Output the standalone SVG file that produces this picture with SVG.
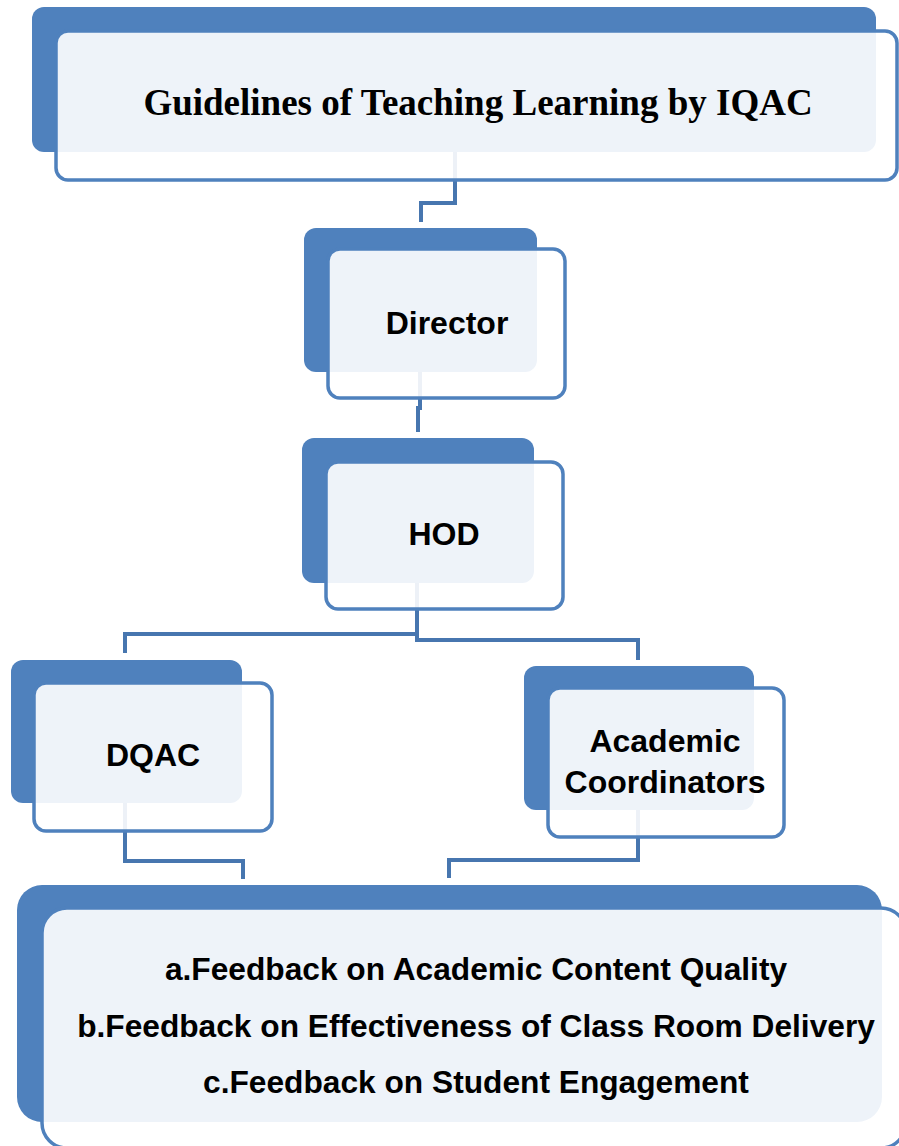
<svg xmlns="http://www.w3.org/2000/svg" width="899" height="1146" viewBox="0 0 899 1146">
<style>
.back{fill:#4F81BD}
.front{fill:#FFFFFF;fill-opacity:0.9;stroke:#4F81BD;stroke-width:3.5}
.conn{fill:none;stroke:#4776AF;stroke-width:4;stroke-linejoin:miter;stroke-linecap:butt}
.lbl{font-family:"Liberation Sans",Arial,sans-serif;font-weight:bold;font-size:32px;fill:#000;text-anchor:middle}
.fb{font-size:31.7px}
.title{font-family:"Liberation Serif","Times New Roman",serif;font-weight:bold;font-size:37px;fill:#000;text-anchor:middle}
</style>
<rect width="899" height="1146" fill="#FFFFFF"/>
<g id="connectors">
<path class="conn" d="M455,152 V203 H421 V222"/>
<path class="conn" d="M420,372 V408 H418 V432"/>
<path class="conn" d="M417,583 V634 H125 V653"/>
<path class="conn" d="M417,583 V640 H638 V660"/>
<path class="conn" d="M125,803 V861 H243 V879"/>
<path class="conn" d="M638,810 V860 H449 V878"/>
</g>
<g id="node-title">
<rect class="back" x="32" y="7" width="844" height="145" rx="12"/>
<rect class="front" x="56" y="31" width="841" height="149" rx="12"/>
<text class="title" x="478" y="115">Guidelines of Teaching Learning by IQAC</text>
</g>
<g id="node-director">
<rect class="back" x="304" y="228" width="233" height="144" rx="12"/>
<rect class="front" x="328" y="249" width="237" height="149" rx="12"/>
<text class="lbl" x="447" y="334">Director</text>
</g>
<g id="node-hod">
<rect class="back" x="302" y="438" width="232" height="145" rx="12"/>
<rect class="front" x="326" y="462" width="237" height="147" rx="12"/>
<text class="lbl" x="444" y="545">HOD</text>
</g>
<g id="node-dqac">
<rect class="back" x="11" y="660" width="231" height="143" rx="12"/>
<rect class="front" x="34" y="683" width="238" height="148" rx="12"/>
<text class="lbl" x="153" y="766">DQAC</text>
</g>
<g id="node-academic">
<rect class="back" x="524" y="666" width="230" height="144" rx="12"/>
<rect class="front" x="548" y="688" width="236" height="149" rx="12"/>
<text class="lbl" x="665" y="752">Academic</text>
<text class="lbl" x="665" y="793">Coordinators</text>
</g>
<g id="node-feedback">
<rect class="back" x="17" y="885" width="865" height="237" rx="25"/>
<rect class="front" x="42" y="908" width="864" height="240" rx="25"/>
<text class="lbl fb" x="476" y="980">a.Feedback on Academic Content Quality</text>
<text class="lbl fb" x="476" y="1037">b.Feedback on Effectiveness of Class Room Delivery</text>
<text class="lbl fb" x="476" y="1093">c.Feedback on Student Engagement</text>
</g>
</svg>
